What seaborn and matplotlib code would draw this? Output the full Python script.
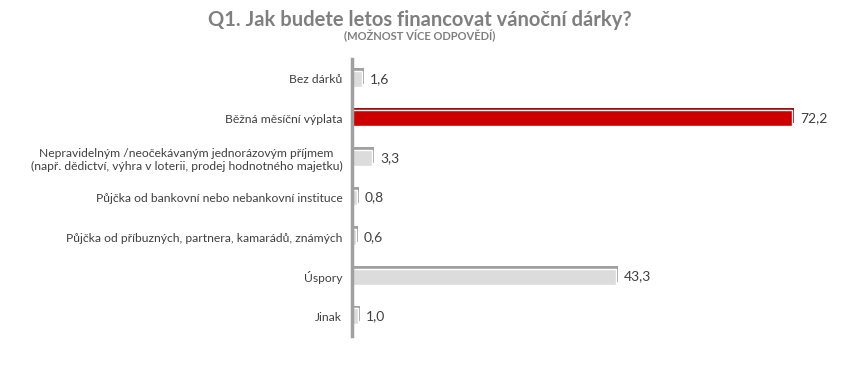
import numpy as np
import pandas as pd

import matplotlib.pyplot as plt
import seaborn as sns

# ==================================================
# DATA
# ==================================================

CATEGORIES = [
    "Bez dárků",
    "Běžná měsíční výplata",
    "Nepravidelným /neočekávaným jednorázovým příjmem\n"
    "(např. dědictví, výhra v loterii, prodej hodnotného majetku)",
    "Půjčka od bankovní nebo nebankovní instituce",
    "Půjčka od příbuzných, partnera, kamarádů, známých",
    "Úspory",
    "Jinak",
]

VALUES = [1.6, 72.2, 3.3, 0.8, 0.6, 43.3, 1.0]

HIGHLIGHT = "Běžná měsíční výplata"

TITLE = "Q1. Jak budete letos financovat vánoční dárky?"
SUBTITLE = "(MOŽNOST VÍCE ODPOVĚDÍ)"

# ==================================================
# STYLE
# ==================================================

sns.set_style("white")
plt.rcParams["font.family"] = ["Lato", "DejaVu Sans"]

RED = "#CC0000"
RED_DARK = "#A50A0A"
GREY = "#DCDCDC"
GREY_DARK = "#A0A0A0"
TEXT = "#404040"

df = pd.DataFrame({
    "Kategorie": CATEGORIES,
    "Hodnota": VALUES,
})

df["Barva"] = np.where(df["Kategorie"] == HIGHLIGHT, RED, GREY)
df["Stin"] = np.where(df["Kategorie"] == HIGHLIGHT, RED_DARK, GREY_DARK)

# ==================================================
# FIGURE
# ==================================================

fig = plt.figure(figsize=(8.42, 3.66), dpi=100)

ax = fig.add_axes([352 / 842, 0.082, 460 / 842, 0.757])

pos = np.arange(len(df))

# back face (fake 3D depth)
ax.barh(
    pos - 0.07,
    df["Hodnota"],
    left=0.35,
    height=0.4,
    color=df["Stin"],
    linewidth=0,
    zorder=1
)

sns.barplot(
    data=df,
    x="Hodnota",
    y="Kategorie",
    hue="Kategorie",
    palette=dict(zip(df["Kategorie"], df["Barva"])),
    saturation=1,
    orient="h",
    width=0.4,
    legend=False,
    ax=ax,
    zorder=2
)

for p, v in zip(pos, df["Hodnota"]):
    ax.text(
        v + 1.3,
        p,
        f"{v:.1f}".replace(".", ","),
        va="center",
        ha="left",
        fontsize=10,
        color=TEXT
    )

ax.set_xlim(0, 75.5)
ax.set_ylim(len(df) - 0.5, -0.5)

ax.set_xlabel("")
ax.set_ylabel("")
ax.set_xticks([])

ax.tick_params(axis="y", length=0, pad=7)
ax.set_yticks(pos)
ax.set_yticklabels(
    df["Kategorie"],
    fontsize=8.7,
    color=TEXT,
    multialignment="center"
)

for side in ["top", "right", "bottom"]:
    ax.spines[side].set_visible(False)

ax.spines["left"].set_color(GREY_DARK)
ax.spines["left"].set_linewidth(2.5)

# ==================================================
# TITLES
# ==================================================

fig.text(
    420 / 842,
    1 - 20 / 366,
    TITLE,
    ha="center",
    va="center",
    fontsize=14.5,
    fontweight="bold",
    color="#7F7F7F"
)

fig.text(
    420 / 842,
    1 - 36 / 366,
    SUBTITLE,
    ha="center",
    va="center",
    fontsize=8,
    fontweight="bold",
    color="#7F7F7F"
)

plt.savefig("out.png", dpi=100)
plt.close()
